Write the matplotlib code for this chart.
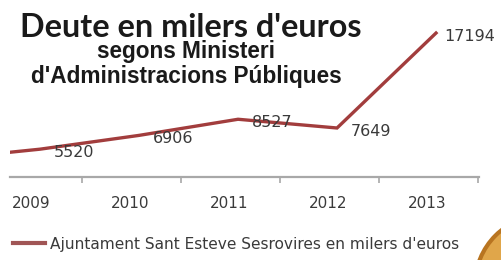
import matplotlib.pyplot as plt
from matplotlib.patches import Circle

# debt values (thousands of euros); the first point is cut off at the left edge
years = ['2008', '2009', '2010', '2011', '2012', '2013']
debt = [4500, 5520, 6906, 8527, 7649, 17194]
shown = ['2009', '2010', '2011', '2012', '2013']
legend_label = "Ajuntament Sant Esteve Sesrovires en milers d'euros"

W, H = 501, 260
fig = plt.figure(figsize=(W / 100, H / 100), dpi=100)

def px(x, y):
    # pixel coords (top-left origin) -> figure fraction
    return x / W, 1 - y / H

ax = fig.add_axes([10 / W, (H - 177) / H, (479 - 10) / W, 177 / H])
xs = list(range(-1, len(debt) - 1))
line_col = '#a23d3d'
ax.plot(xs, debt, color=line_col, lw=2.4, solid_joinstyle='miter', label=legend_label)
ax.set_xlim(-0.303, 4.434)
ax.set_ylim(2724, 20513)

for x, v in zip(xs[1:], debt[1:]):
    ax.annotate(str(v), (x, v), xytext=(24.5, -2.2), textcoords='offset points',
                ha='center', va='center', fontsize=11.5, color='#3a3a3a',
                family='DejaVu Sans')

for s in ['top', 'right', 'left']:
    ax.spines[s].set_visible(False)
ax.spines['bottom'].set_color('#a8a8a8')
ax.spines['bottom'].set_linewidth(1.6)
ax.set_yticks([])
ax.set_xticks([i + 0.42 for i in range(5)])
ax.set_xticklabels([])
ax.tick_params(axis='x', which='major', direction='out', length=4.5, width=1.2, color='#a8a8a8')
ax.set_xticks([i - 0.09 for i in range(5)], minor=True)
ax.set_xticklabels(shown, minor=True)
ax.tick_params(axis='x', which='minor', length=0, pad=14, labelsize=11, labelcolor='#3a3a3a')
ax.set_facecolor('none')

leg = ax.legend(loc='center left', bbox_to_anchor=(px(13, 244)), bbox_transform=fig.transFigure,
                frameon=False, fontsize=11.1, handlelength=2.1, handletextpad=0.3,
                borderaxespad=0, borderpad=0)
for t in leg.get_texts():
    t.set_color('#3a3a3a')
leg.get_lines()[0].set_linewidth(3)
leg.get_lines()[0].set_color('#a05555')

fig.text(*px(20, 37), "Deute en milers d'euros", fontsize=23.3, fontweight='bold',
         family='Lato', color='#1a1a1a', va='baseline', ha='left')
fig.text(*px(186, 58), "segons Ministeri", fontsize=16.3, fontweight='bold',
         family='Liberation Sans', color='#1a1a1a', va='baseline', ha='center')
fig.text(*px(186, 83), "d'Administracions Públiques", fontsize=16.3, fontweight='bold',
         family='Liberation Sans', color='#1a1a1a', va='baseline', ha='center')

# gold coin in the bottom-right corner
coin = Circle((545, H - 285), 70, transform=None, facecolor='#e0a64a',
              edgecolor='#b87420', lw=3)
fig.patches.append(coin)

fig.savefig('out.png', dpi=100)
